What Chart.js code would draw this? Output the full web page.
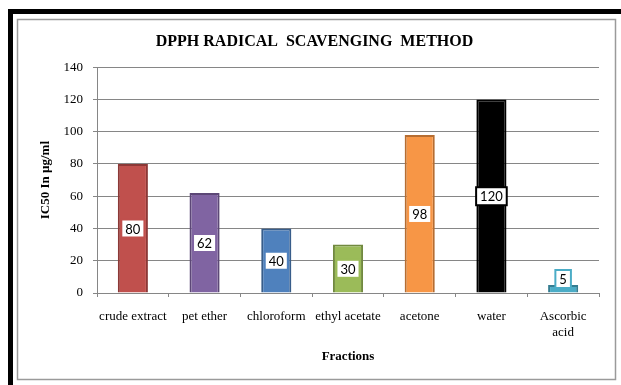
<!DOCTYPE html>
<html>
<head>
<meta charset="utf-8">
<script src="https://cdn.jsdelivr.net/npm/chart.js@4"></script>
<style>
  html, body { margin: 0; padding: 0; background: #fff; }
  #wrap { width: 621px; height: 385px; }
</style>
</head>
<body>
<div id="wrap"><canvas id="dpphChart" width="621" height="385"></canvas></div>
<script>
const fractions = ['crude extract', 'pet ether', 'chloroform', 'ethyl acetate', 'acetone', 'water', ['Ascorbic', 'acid']];
const ic50Values = [80, 62, 40, 30, 98, 120, 5];
const yTicks = [0, 20, 40, 60, 80, 100, 120, 140];

const fillColors = ['#C0504D', '#8064A2', '#4F81BD', '#9BBB59', '#F79646', '#000000', '#4BACC6'];
const edgeColors = ['#8C3836', '#5C4776', '#385D8A', '#71893F', '#B66D31', '#000000', '#357D91'];

// frame: thick black top/left edge plus thin grey box, like the original figure
const framePlugin = {
    id: 'frame',
    beforeDraw(chart) {
        const c = chart.ctx;
        c.save();
        c.fillStyle = '#ffffff';
        c.fillRect(0, 0, chart.width, chart.height);
        c.fillStyle = '#000000';
        c.fillRect(8, 9, chart.width - 8, 5);
        c.fillRect(8, 9, 5, chart.height - 9);
        c.strokeStyle = '#9a9a9a';
        c.lineWidth = 1.5;
        c.strokeRect(17.5, 19.5, 598, 360);
        c.restore();
    }
};

// value boxes in the middle of each bar
const valueBoxes = {
    id: 'valueBoxes',
    afterDatasetsDraw(chart) {
        const c = chart.ctx;
        const meta = chart.getDatasetMeta(0);
        const base = chart.scales.y.getPixelForValue(0);
        c.save();
        c.font = '13px Lato';
        c.textAlign = 'center';
        c.textBaseline = 'middle';
        meta.data.forEach((bar, i) => {
            const txt = String(ic50Values[i]);
            const w = c.measureText(txt).width + 8;
            const h = 18;
            let y = (bar.y + base) / 2;
            y = Math.min(y, base - 14);
            c.fillStyle = '#ffffff';
            c.fillRect(bar.x - w / 2, y - h / 2, w, h);
            c.strokeStyle = fillColors[i];
            c.lineWidth = 2;
            c.strokeRect(bar.x - w / 2, y - h / 2, w, h);
            c.fillStyle = '#000000';
            c.fillText(txt, bar.x, y + 1);
        });
        c.restore();
    }
};

const ctx = document.getElementById('dpphChart').getContext('2d');
const dpphChart = new Chart(ctx, {
    type: 'bar',
    data: {
        labels: fractions,
        datasets: [{
            label: 'IC50',
            data: ic50Values,
            backgroundColor: fillColors,
            borderColor: edgeColors,
            borderWidth: 2,
            borderSkipped: 'bottom',
            categoryPercentage: 1,
            barPercentage: 0.42
        }]
    },
    options: {
        responsive: false,
        animation: false,
        layout: { padding: { left: 30, right: 22, top: 0, bottom: 21 } },
        plugins: {
            legend: { display: false },
            tooltip: { enabled: false },
            title: {
                display: true,
                text: 'DPPH RADICAL  SCAVENGING  METHOD',
                color: '#000',
                font: { family: 'Liberation Serif', size: 16, weight: 'bold' },
                padding: { top: 32, bottom: 16 }
            }
        },
        scales: {
            x: {
                afterFit(scale) { scale.height = 71; },
                grid: {
                    offset: true,
                    drawOnChartArea: false,
                    tickLength: 4,
                    color: '#868686'
                },
                border: { color: '#868686' },
                ticks: {
                    color: '#000',
                    padding: 12,
                    maxRotation: 0,
                    font: { family: 'Liberation Serif', size: 13 }
                },
                title: {
                    display: true,
                    text: 'Fractions',
                    color: '#000',
                    font: { family: 'Liberation Serif', size: 13, weight: 'bold' },
                    padding: { top: 4, bottom: 0 }
                }
            },
            y: {
                min: 0,
                max: 140,
                afterFit(scale) { scale.width = 67; },
                afterBuildTicks(scale) { scale.ticks = yTicks.map(v => ({ value: v })); },
                grid: { color: '#868686', tickLength: 4 },
                border: { color: '#868686' },
                ticks: {
                    color: '#000',
                    padding: 10,
                    font: { family: 'Liberation Serif', size: 13 }
                },
                title: {
                    display: true,
                    text: 'IC50 In µg/ml',
                    color: '#000',
                    font: { family: 'Liberation Serif', size: 13, weight: 'bold' },
                    padding: { top: 8, bottom: 0 }
                }
            }
        }
    },
    plugins: [framePlugin, valueBoxes]
});
</script>
</body>
</html>
